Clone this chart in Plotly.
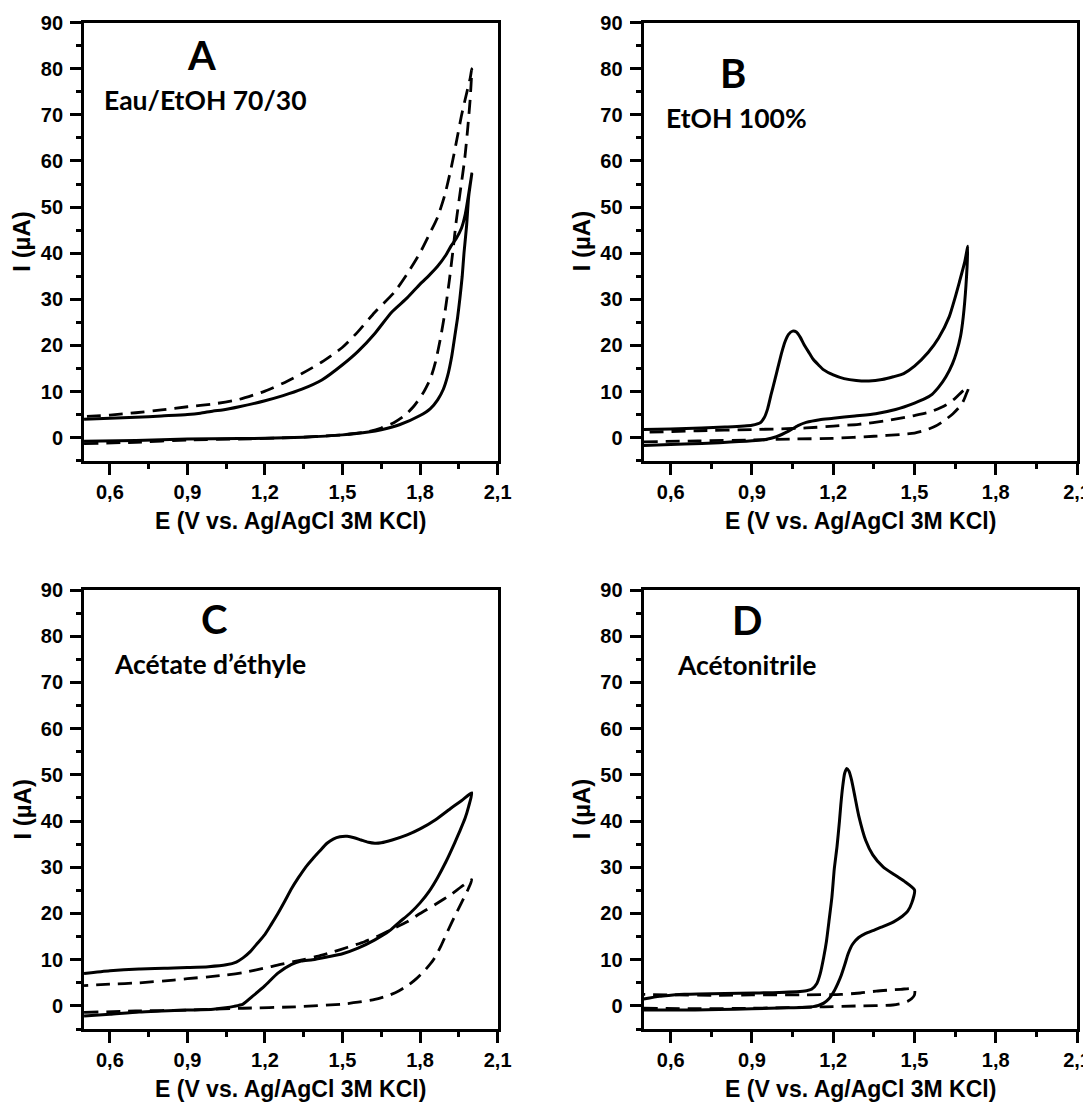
import plotly.graph_objects as go

# ---------------- Data (E in V vs Ag/AgCl, I in µA) ----------------
# Panel A : Eau/EtOH 70/30
A_solid_E = [0.5, 0.7, 0.9, 1.1, 1.2, 1.35, 1.5, 1.6, 1.65, 1.72, 1.8, 1.84, 1.868, 1.89, 1.907, 1.922,
             1.934, 1.945, 1.954, 1.963, 1.97, 1.98, 1.988, 2.0,
             1.994, 1.975, 1.96, 1.94, 1.92, 1.9, 1.867, 1.835, 1.8, 1.75, 1.69, 1.625, 1.56, 1.5, 1.42,
             1.343, 1.27, 1.2, 1.1, 1.035, 1.0, 0.95, 0.9, 0.8, 0.7, 0.6, 0.5]
A_solid_I = [-0.8, -0.6, -0.3, -0.2, -0.15, 0.1, 0.6, 1.2, 1.7, 2.8, 4.8, 6.3, 8.2, 10.5, 13.5, 17.5,
             21.9, 26.0, 30.2, 35.0, 40.1, 46.0, 52.3, 57.2,
             55.0, 48.5, 45.4, 43.2, 41.6, 39.6, 37.1, 35.2, 33.3, 30.3, 27.2, 22.6, 18.7, 15.8, 12.5,
             10.5, 9.1, 8.0, 6.7, 6.0, 5.8, 5.3, 5.0, 4.7, 4.4, 4.2, 4.0]
A_dash_E = [0.5, 0.7, 0.9, 1.1, 1.3, 1.5, 1.6, 1.65, 1.7, 1.74, 1.774, 1.81, 1.84, 1.86, 1.88, 1.897,
            1.913, 1.927, 1.94, 1.957, 1.973, 1.985, 1.994, 2.0,
            1.994, 1.975, 1.96, 1.94, 1.92, 1.895, 1.867, 1.835, 1.8, 1.75, 1.7, 1.625, 1.56, 1.5, 1.42,
            1.343, 1.27, 1.2, 1.1, 1.0, 0.9, 0.8, 0.7, 0.6, 0.5]
A_dash_I = [-1.3, -1.0, -0.5, -0.3, 0.0, 0.6, 1.3, 2.1, 3.3, 4.8, 6.7, 9.5, 12.8, 16.5, 21.9, 27.5,
            34.0, 40.5, 47.0, 54.0, 60.6, 67.5, 73.6, 80.0,
            78.0, 73.5, 69.8, 64.0, 58.4, 52.5, 47.7, 44.0, 40.1, 35.5, 31.5, 27.2, 23.0, 19.6, 16.4,
            13.9, 11.8, 10.1, 8.3, 7.3, 6.7, 6.0, 5.4, 4.9, 4.6]

# Panel B : EtOH 100%
B_solid_E = [0.5, 0.65, 0.78, 0.9, 0.95, 0.99, 1.035, 1.07, 1.1, 1.15, 1.2, 1.28, 1.357, 1.43, 1.5, 1.54,
             1.565, 1.59, 1.616, 1.64, 1.655, 1.67, 1.68, 1.69, 1.697,
             1.685, 1.666, 1.648, 1.628, 1.589, 1.551, 1.5, 1.46, 1.422, 1.38, 1.332, 1.285, 1.24, 1.2, 1.165,
             1.145, 1.126, 1.11, 1.093, 1.078, 1.064, 1.05, 1.035, 1.022, 1.01, 0.997, 0.984, 0.97, 0.958,
             0.945, 0.932, 0.9, 0.8, 0.714, 0.6, 0.5]
B_solid_I = [-1.7, -1.4, -1.1, -0.7, -0.4, 0.2, 1.4, 2.6, 3.3, 3.9, 4.2, 4.7, 5.2, 6.1, 7.5, 8.5,
             9.4, 11.0, 13.2, 16.0, 18.5, 22.0, 26.2, 33.0, 41.5,
             38.0, 33.8, 30.0, 26.2, 21.6, 18.5, 15.5, 13.9, 13.2, 12.6, 12.3, 12.4, 12.8, 13.6, 14.7,
             15.8, 17.0, 18.5, 20.1, 21.8, 22.9, 23.1, 22.4, 20.8, 18.5, 15.5, 12.4, 9.2, 6.3,
             4.3, 3.3, 2.7, 2.3, 2.1, 1.9, 1.75]
B_dash_E = [0.5, 0.7, 0.9, 1.05, 1.2, 1.35, 1.45, 1.5, 1.54, 1.578, 1.61, 1.642, 1.665, 1.68, 1.69, 1.7,
            1.68, 1.65, 1.616, 1.56, 1.5, 1.4, 1.294, 1.2, 1.1, 1.0, 0.9, 0.7, 0.5]
B_dash_I = [-0.9, -0.7, -0.5, -0.3, -0.15, 0.3, 0.7, 1.0, 1.6, 2.5, 3.7, 5.2, 6.6, 7.9, 9.3, 10.9,
            10.2, 8.5, 7.1, 5.6, 4.8, 3.7, 2.9, 2.5, 2.1, 1.9, 1.75, 1.5, 1.15]

# Panel C : Acétate d'éthyle
C_solid_E = [0.5, 0.6, 0.713, 0.8, 0.9, 1.0, 1.048, 1.08, 1.115, 1.15, 1.2, 1.25, 1.303, 1.34, 1.384, 1.44,
             1.5, 1.56, 1.625, 1.68, 1.719, 1.76, 1.8, 1.835, 1.867, 1.9, 1.934, 1.955, 1.974, 1.988, 2.0,
             1.96, 1.922, 1.86, 1.8, 1.75, 1.692, 1.65, 1.625, 1.6, 1.572, 1.545, 1.518, 1.49, 1.464, 1.44,
             1.41, 1.384, 1.357, 1.33, 1.303, 1.277, 1.25, 1.225, 1.2, 1.17, 1.142, 1.115, 1.089, 1.05,
             0.981, 0.9, 0.847, 0.713, 0.6, 0.5]
C_solid_I = [-2.2, -1.8, -1.3, -1.1, -0.9, -0.7, -0.4, -0.1, 0.4, 2.0, 4.4, 7.1, 9.0, 9.7, 10.0, 10.6,
             11.3, 12.5, 14.3, 16.2, 18.1, 20.0, 22.3, 24.8, 27.7, 31.2, 35.3, 38.0, 40.6, 43.2, 46.1,
             44.4, 42.9, 40.3, 38.3, 37.0, 35.9, 35.3, 35.2, 35.4, 35.9, 36.4, 36.7, 36.6, 36.1, 35.2,
             33.4, 31.8, 30.0, 27.8, 25.4, 22.7, 20.0, 17.7, 15.5, 13.5, 11.7, 10.4, 9.5, 8.9,
             8.5, 8.3, 8.2, 8.0, 7.6, 7.0]
C_dash_E = [0.5, 0.7, 0.9, 1.115, 1.317, 1.5, 1.56, 1.625, 1.68, 1.719, 1.755, 1.786, 1.82, 1.853, 1.88,
            1.907, 1.935, 1.96, 1.987, 2.0,
            1.96, 1.922, 1.86, 1.8, 1.75, 1.692, 1.64, 1.585, 1.52, 1.464, 1.4, 1.33, 1.26, 1.2, 1.115,
            1.05, 0.981, 0.9, 0.847, 0.713, 0.6, 0.5]
C_dash_I = [-1.4, -1.1, -0.9, -0.5, -0.2, 0.4, 0.8, 1.4, 2.3, 3.3, 4.5, 5.9, 7.8, 10.1, 12.9,
            16.2, 19.5, 22.3, 25.4, 27.3,
            25.8, 24.2, 22.0, 20.0, 18.2, 16.6, 15.2, 13.9, 12.7, 11.7, 10.7, 9.8, 9.0, 8.2, 7.2,
            6.7, 6.3, 5.9, 5.6, 5.0, 4.7, 4.4]

# Panel D : Acétonitrile
D_solid_E = [0.5, 0.6, 0.778, 0.9, 1.036, 1.1, 1.126, 1.145, 1.165, 1.185, 1.204, 1.218, 1.23, 1.243,
             1.255, 1.272, 1.294, 1.32, 1.346, 1.385, 1.423, 1.455, 1.475, 1.49, 1.5,
             1.462, 1.423, 1.384, 1.346, 1.32, 1.294, 1.281, 1.268, 1.258, 1.25, 1.242, 1.235, 1.228,
             1.223, 1.214, 1.204, 1.195, 1.184, 1.175, 1.165, 1.152, 1.139, 1.12, 1.101, 1.0, 0.907,
             0.8, 0.7, 0.65, 0.6, 0.559, 0.5]
D_solid_I = [-0.9, -0.9, -0.8, -0.6, -0.4, -0.3, -0.15, 0.1, 0.6, 1.6, 3.3, 5.0, 6.7, 9.0,
             11.3, 13.4, 14.8, 15.7, 16.3, 17.2, 18.2, 19.4, 20.5, 22.3, 25.1,
             27.0, 28.5, 30.1, 32.7, 35.8, 41.2, 45.0, 48.8, 50.8, 51.4, 50.3, 47.5, 43.5,
             40.0, 34.5, 29.7, 23.5, 18.2, 14.0, 10.6, 7.0, 4.8, 3.6, 3.3, 2.9, 2.8,
             2.7, 2.6, 2.5, 2.3, 2.1, 1.5]
D_dash_E = [0.5, 0.7, 0.9, 1.165, 1.294, 1.42, 1.45, 1.475, 1.49, 1.5,
            1.5, 1.45, 1.4, 1.358, 1.3, 1.23, 1.1, 0.9, 0.778, 0.6, 0.5]
D_dash_I = [-0.5, -0.6, -0.5, -0.2, 0.0, 0.2, 0.5, 1.0, 1.6, 2.4,
            3.7, 3.6, 3.4, 3.2, 2.8, 2.5, 2.4, 2.4, 2.3, 2.4, 2.5]

panel_letters = ["A", "B", "C", "D"]
panel_labels = ["Eau/EtOH 70/30", "EtOH 100%", "Acétate d’éthyle", "Acétonitrile"]
letter_pos = [(0.953, 83.0), (0.830, 79.1), (1.003, 83.7), (0.882, 83.5)]
label_pos = [(0.570, 73.2), (0.576, 69.4), (0.609, 74.0), (0.617, 73.8)]

x_title = "E (V vs. Ag/AgCl 3M KCl)"
y_title = "I (µA)"
x_range = [0.5, 2.1]
y_range = [-5, 90]

# ---------------- Figure ----------------
series = [
    (A_solid_E, A_solid_I, A_dash_E, A_dash_I),
    (B_solid_E, B_solid_I, B_dash_E, B_dash_I),
    (C_solid_E, C_solid_I, C_dash_E, C_dash_I),
    (D_solid_E, D_solid_I, D_dash_E, D_dash_I),
]

# figure is 8 px smaller than the window (page body margin)
W, H = 1083, 1094
x_domains = [[0.0702, 0.4521], [0.5869, 0.9871], [0.0702, 0.4521], [0.5869, 0.9871]]
y_domains = [[0.5862, 0.9866], [0.5862, 0.9866], [0.0667, 0.4680], [0.0667, 0.4680]]

FAM = "Liberation Sans, Arial, sans-serif"
TICK_FONT = dict(family=FAM, size=20, color="black", weight="bold")
TITLE_FONT = dict(family=FAM, size=23, color="black", weight="bold")
YTITLE_FONT = dict(family=FAM, size=24, color="black", weight="bold")
ANN_FONT = "Lato, Open Sans, sans-serif"

fig = go.Figure()
layout = {}
annotations = []
for i, (se, si, de, di) in enumerate(series):
    n = "" if i == 0 else str(i + 1)
    xa, ya = "x" + n, "y" + n
    fig.add_trace(go.Scatter(x=de, y=di, xaxis=xa, yaxis=ya, mode="lines",
                             line=dict(color="black", width=2.8, dash="14px,8px",
                                       shape="spline", smoothing=0.6),
                             showlegend=False, hoverinfo="skip"))
    fig.add_trace(go.Scatter(x=se, y=si, xaxis=xa, yaxis=ya, mode="lines",
                             line=dict(color="black", width=3, shape="spline", smoothing=0.6),
                             showlegend=False, hoverinfo="skip"))
    layout["xaxis" + n] = dict(
        domain=x_domains[i], anchor=ya, range=x_range, tick0=0.6, dtick=0.3,
        tickformat=".1f", ticks="outside", ticklen=11, tickwidth=2.8, tickcolor="black",
        minor=dict(dtick=0.15, tick0=0.6, ticks="outside", ticklen=5, tickwidth=2.8, tickcolor="black"),
        showline=True, linewidth=3, linecolor="black", mirror=True,
        showgrid=False, zeroline=False, tickfont=TICK_FONT, ticklabelstandoff=0,
        automargin=False,
    )
    layout["yaxis" + n] = dict(
        domain=y_domains[i], anchor=xa, range=y_range, tick0=0, dtick=10,
        ticks="outside", ticklen=11, tickwidth=2.8, tickcolor="black",
        minor=dict(dtick=5, tick0=0, ticks="outside", ticklen=5, tickwidth=2.8, tickcolor="black"),
        showline=True, linewidth=3, linecolor="black", mirror=True,
        showgrid=False, zeroline=False, tickfont=TICK_FONT, ticklabelstandoff=3,
        automargin=False,
    )
    # axis titles
    annotations.append(dict(x=0.5, y=0, xref=xa + " domain", yref=ya + " domain",
                            text=x_title, showarrow=False, xanchor="center", yanchor="middle",
                            yshift=-60, font=TITLE_FONT))
    annotations.append(dict(x=0, y=0.5, xref=xa + " domain", yref=ya + " domain",
                            text=y_title, showarrow=False, xanchor="center", yanchor="middle",
                            textangle=-90, xshift=-62, font=YTITLE_FONT))
    # panel letter and solvent label
    annotations.append(dict(x=letter_pos[i][0], y=letter_pos[i][1], xref=xa, yref=ya,
                            text=panel_letters[i], showarrow=False, xanchor="center", yanchor="middle",
                            font=dict(family=ANN_FONT, size=40, color="black", weight="bold")))
    annotations.append(dict(x=label_pos[i][0], y=label_pos[i][1], xref=xa, yref=ya,
                            text=panel_labels[i], showarrow=False, xanchor="left", yanchor="middle",
                            font=dict(family=ANN_FONT, size=26.5, color="black", weight="bold")))

fig.update_layout(
    width=W, height=H,
    margin=dict(l=0, r=0, t=0, b=0),
    paper_bgcolor="white", plot_bgcolor="white",
    separators=",.",
    annotations=annotations,
    showlegend=False,
    **layout,
)

fig.write_html("out.html")
